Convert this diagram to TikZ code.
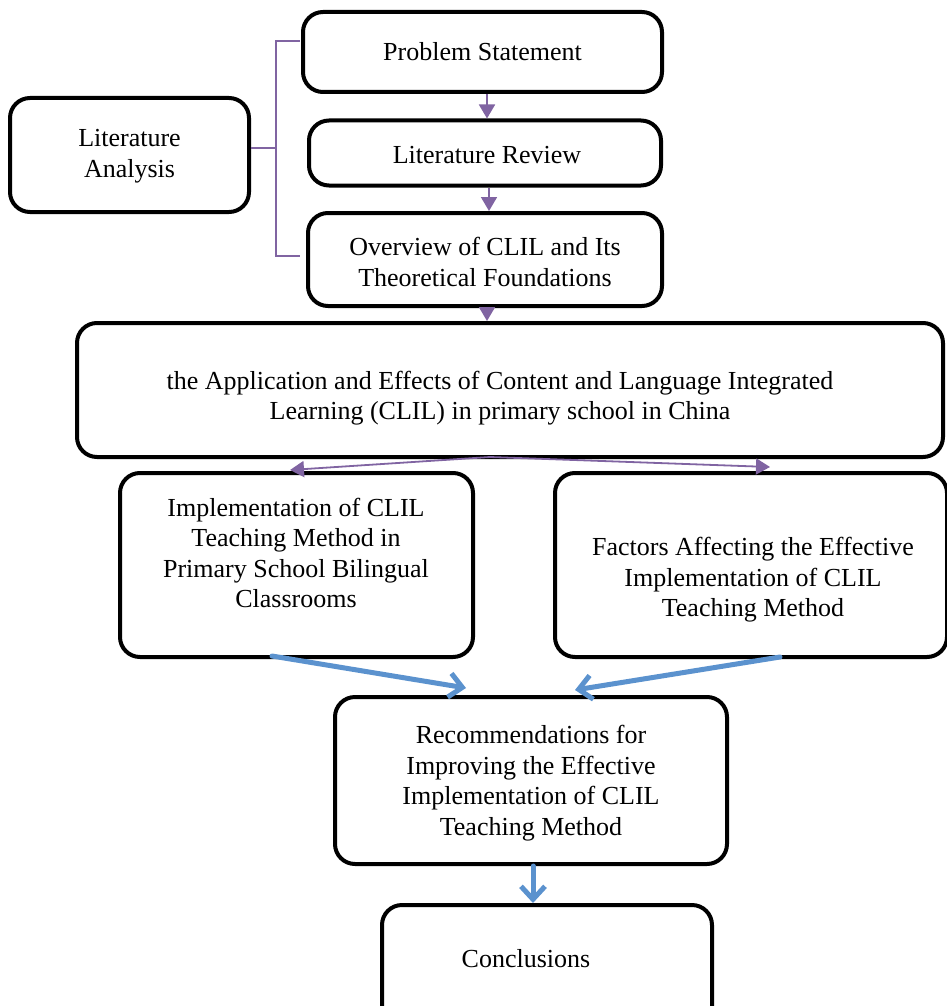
\documentclass[tikz,border=0pt]{standalone}
\usepackage{fontspec}
\setmainfont{Liberation Serif}
\usetikzlibrary{arrows.meta}
\definecolor{purp}{RGB}{128,100,162}
\definecolor{blu}{RGB}{91,146,206}
\tikzset{
  box/.style={draw=black, line width=4pt, rounded corners=20pt, fill=white, inner sep=0pt},
  txt/.style={align=center, font=\fontsize{26}{30.5}\selectfont, inner sep=0pt},
  parrow/.style={draw=purp, line width=1.8pt, -{Triangle[length=14pt,width=16pt]}},
  barrow/.style={draw=blu, line width=5pt, line cap=round, -{Straight Barb[length=13pt,width=24pt,line width=5pt]}},
  brack/.style={draw=purp, line width=1.5pt}
}
\begin{document}
\begin{tikzpicture}[x=1pt,y=-1pt]
\useasboundingbox (0,0) rectangle (947,1006);
\begin{scope}
\clip (0,0) rectangle (947,1006);
% boxes
\node[box, minimum width=359pt, minimum height=80pt] (ps) at (482.5,52) {};
\node[box, minimum width=352pt, minimum height=65pt] (lr) at (485,153) {};
\node[box, minimum width=354pt, minimum height=93pt] (ov) at (485,259.5) {};
\node[box, minimum width=239pt, minimum height=114pt] (la) at (129.5,155) {};
\node[box, minimum width=866pt, minimum height=134pt] (big) at (510,390) {};
\node[box, minimum width=353pt, minimum height=184pt] (impl) at (296.5,565) {};
\node[box, minimum width=392pt, minimum height=184pt] (fac) at (751,565) {};
\node[box, minimum width=392pt, minimum height=167pt] (rec) at (531,780.5) {};
\node[box, minimum width=330pt, minimum height=170pt] (con) at (547,990) {};
\end{scope}
% texts
\node[txt] (psT) at (482.5,52) {Problem Statement};
\node[txt] (lrT) at (487,155) {Literature Review};
\node[txt] (ovT) at (485,262) {Overview of CLIL and Its\\Theoretical Foundations};
\node[txt] (laT) at (129.5,156) {Literature\\Analysis};
\node[txt] (bigT) at (500,398) {the Application and Effects of Content and Language Integrated\\Learning (CLIL) in primary school in China};
\node[txt] (implT) at (296,553) {Implementation of CLIL\\Teaching Method in\\Primary School Bilingual\\Classrooms};
\node[txt] (facT) at (753,580) {Factors Affecting the Effective\\Implementation of CLIL\\Teaching Method};
\node[txt] (recT) at (531,783) {Recommendations for\\Improving the Effective\\Implementation of CLIL\\Teaching Method};
\node[txt] (conT) at (526,959) {Conclusions};
% bracket
\coordinate (bt) at (276,41);
\coordinate (bb) at (276,256);
\coordinate (bm) at (276,148);
\draw[brack] (300,41) -- (bt) -- (bb) -- (300,256);
\draw[brack] (la.east |- bm) -- (bm);
% purple arrows
\draw[parrow] (ps.south -| 487,0) -- (lr.north -| 487,0);
\draw[parrow] (lr.south -| 489,0) -- (ov.north -| 489,0);
\draw[parrow] (ov.south -| 487,0) -- (big.north -| 487,0);
\coordinate (bs) at (490,457);
\draw[parrow] (bs) -- (290,470);
\draw[parrow] (bs) -- (770,467);
% blue arrows
\draw[barrow] (272,656) -- (466,688);
\draw[barrow] (780,657) -- (575,690);
\draw[barrow] (rec.south -| 533,0) -- (con.north -| 533,0);
\end{tikzpicture}
\end{document}
